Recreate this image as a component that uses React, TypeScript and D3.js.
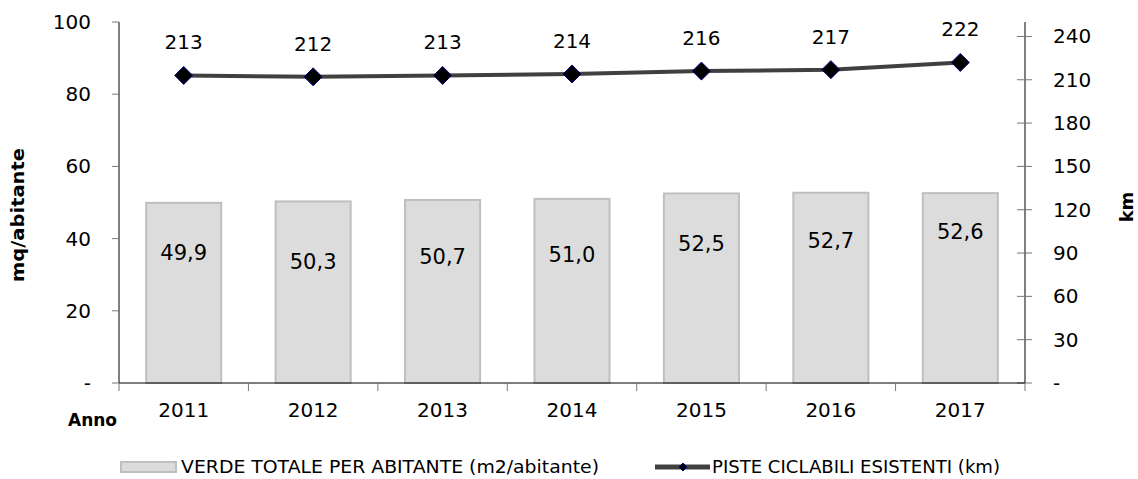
import React from "react";
import * as d3 from "d3";

const years = ["2011", "2012", "2013", "2014", "2015", "2016", "2017"];
const verde = [49.9, 50.3, 50.7, 51.0, 52.5, 52.7, 52.6];
const piste = [213, 212, 213, 214, 216, 217, 222];
const verdeLabelAt = [36.0, 33.5, 34.9, 35.5, 38.5, 39.3, 41.8];
const leftTicks = [0, 20, 40, 60, 80, 100];
const rightTicks = [0, 30, 60, 90, 120, 150, 180, 210, 240];

const W = 1138;
const H = 479;
const FONT = "'DejaVu Sans', Verdana, sans-serif";

export default function App() {
  const x0 = 119, x1 = 1025, yTop = 22, yBot = 383;
  const x = d3.scaleBand<string>().domain(years).range([x0, x1]).paddingInner(0.42).paddingOuter(0.21);
  const band = d3.scaleBand<string>().domain(years).range([x0, x1]);
  const yL = d3.scaleLinear().domain([0, 100]).range([yBot, yTop]);
  const yR = d3.scaleLinear().domain([0, 250]).range([yBot, yTop]);
  const fmt = (v: number) => v.toFixed(1).replace(".", ",");
  const cx = (y: string) => (band(y) as number) + band.bandwidth() / 2;
  const line = d3.line<number>().x((_, i) => cx(years[i])).y((d) => yR(d));
  const diamond = (px: number, py: number, r: number) =>
    `M${px},${py - r}L${px + r},${py}L${px},${py + r}L${px - r},${py}Z`;

  return (
    <svg width={W} height={H} style={{ position: "absolute", left: 0, top: 0, background: "#fff" }} fontFamily={FONT}>
      {/* bars */}
      {years.map((yr, i) => (
        <rect key={yr} x={x(yr)} y={yL(verde[i])} width={x.bandwidth()} height={yL(0) - yL(verde[i])}
          fill="#dcdcdc" stroke="#bfbfbf" strokeWidth={2} />
      ))}
      {years.map((yr, i) => (
        <text key={yr} x={cx(yr)} y={yL(verdeLabelAt[i])} dy="0.35em" textAnchor="middle" fontSize={21} fill="#000">
          {fmt(verde[i])}
        </text>
      ))}
      {/* left axis */}
      <line x1={x0} x2={x0} y1={yTop} y2={yBot} stroke="#000" />
      {leftTicks.map((t) => (
        <g key={t}>
          <line x1={x0 - 7} x2={x0} y1={yL(t)} y2={yL(t)} stroke="#777" />
          <text x={91} y={yL(t)} dy="0.35em" textAnchor="end" fontSize={20}>{t === 0 ? "-" : t}</text>
        </g>
      ))}
      {/* right axis */}
      <line x1={x1} x2={x1} y1={yTop} y2={yBot} stroke="#000" />
      {rightTicks.map((t) => (
        <g key={t}>
          <line x1={x1 - 8} x2={x1 + 7} y1={yR(t)} y2={yR(t)} stroke="#777" />
          <text x={1053} y={yR(t)} dy="0.35em" textAnchor="start" fontSize={20}>{t === 0 ? "-" : t}</text>
        </g>
      ))}
      {/* x axis */}
      <line x1={x0} x2={x1} y1={yBot} y2={yBot} stroke="#000" />
      {[...years.map((y) => band(y) as number), x1].map((bx, i) => (
        <line key={i} x1={bx} x2={bx} y1={yBot} y2={yBot + 8} stroke="#777" />
      ))}
      {years.map((yr) => (
        <text key={yr} x={cx(yr)} y={410} dy="0.35em" textAnchor="middle" fontSize={20}>{yr}</text>
      ))}
      <text x={68} y={420} dy="0.35em" fontSize={17} fontWeight="bold">Anno</text>
      <text transform="translate(18,215) rotate(-90)" textAnchor="middle" dy="0.35em" fontSize={17} fontWeight="bold"
        textLength={134} lengthAdjust="spacingAndGlyphs">mq/abitante</text>
      <text transform="translate(1127,207) rotate(-90)" textAnchor="middle" dy="0.35em" fontSize={18} fontWeight="bold">km</text>
      {/* line */}
      <path d={line(piste) || ""} fill="none" stroke="#404040" strokeWidth={4} />
      {years.map((yr, i) => (
        <path key={yr} d={diamond(cx(yr), yR(piste[i]), 9)} fill="#000" stroke="#000080" strokeWidth={1} />
      ))}
      {years.map((yr, i) => (
        <text key={yr} x={cx(yr)} y={yR(piste[i]) - 33} dy="0.35em" textAnchor="middle" fontSize={20}>{piste[i]}</text>
      ))}
      {/* legend */}
      <rect x={121} y={462} width={55} height={10} fill="#dcdcdc" stroke="#bfbfbf" strokeWidth={2} />
      <text x={181} y={467} dy="0.35em" fontSize={18} textLength={418} lengthAdjust="spacingAndGlyphs">VERDE TOTALE PER ABITANTE (m2/abitante)</text>
      <line x1={655} x2={710} y1={467} y2={467} stroke="#404040" strokeWidth={5} />
      <path d={diamond(683, 467, 4)} fill="#000" stroke="#000080" />
      <text x={712} y={467} dy="0.35em" fontSize={18} textLength={288} lengthAdjust="spacingAndGlyphs">PISTE CICLABILI ESISTENTI (km)</text>
    </svg>
  );
}
